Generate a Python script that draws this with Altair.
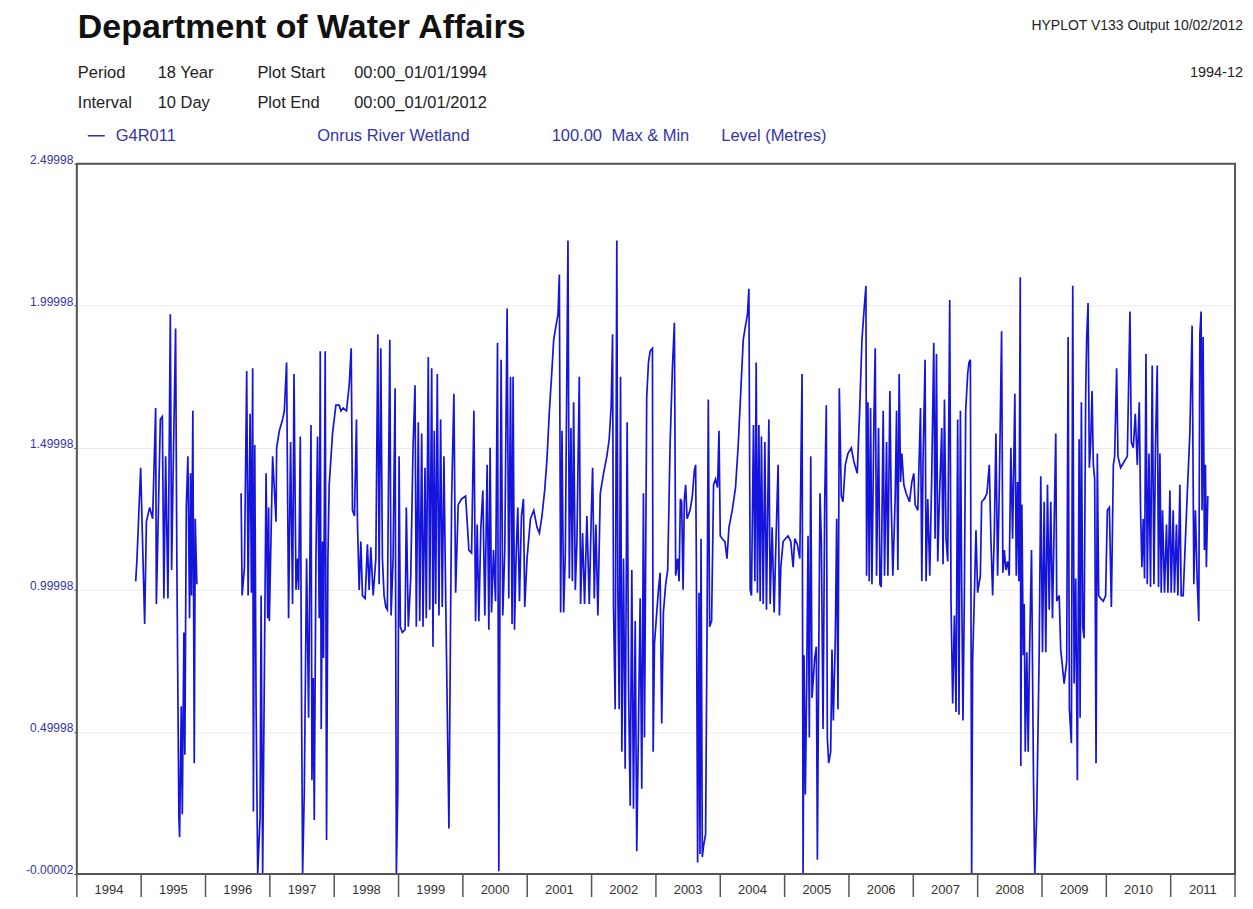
import altair as alt
import pandas as pd

# ---------------- data (decimal year, level in metres) ----------------
seg_1995 = [(1994.915, 1.03), (1994.935, 1.11), (1994.992, 1.43), (1995.054, 0.88), (1995.081, 1.24),
            (1995.132, 1.29), (1995.178, 1.25), (1995.225, 1.64), (1995.236, 0.95), (1995.298, 1.60),
            (1995.329, 1.61), (1995.353, 0.97), (1995.380, 1.47), (1995.416, 0.97), (1995.453, 1.97),
            (1995.473, 1.07), (1995.493, 1.36), (1995.535, 1.92), (1995.555, 1.08), (1995.586, 0.20),
            (1995.597, 0.13), (1995.623, 0.59), (1995.639, 0.21), (1995.664, 0.85), (1995.679, 0.42),
            (1995.701, 1.29), (1995.726, 1.47), (1995.752, 0.90), (1995.767, 1.41), (1995.783, 0.98),
            (1995.803, 1.63), (1995.825, 0.39), (1995.840, 1.25), (1995.865, 1.02)]

level_1996 = [(1996.553, 1.34), (1996.569, 0.98), (1996.605, 1.08), (1996.640, 1.77), (1996.662, 0.98),
              (1996.693, 1.62), (1996.713, 0.99), (1996.733, 1.78), (1996.744, 0.22), (1996.765, 1.51),
              (1996.786, 0.59), (1996.811, 0.0), (1996.848, 0.20), (1996.864, 0.98), (1996.888, 0.0),
              (1996.915, 0.72), (1996.941, 1.41), (1996.966, 0.90), (1996.981, 1.29), (1996.992, 0.89)]
level_1997 = [(1997.043, 1.47), (1997.096, 1.24), (1997.105, 1.50), (1997.147, 1.56), (1997.198, 1.60),
              (1997.225, 1.63), (1997.260, 1.80), (1997.291, 0.90), (1997.322, 1.52), (1997.353, 0.95),
              (1997.375, 1.76), (1997.406, 1.00), (1997.431, 1.11), (1997.447, 1.00), (1997.473, 1.54),
              (1997.493, 0.59), (1997.509, 0.0), (1997.535, 0.29), (1997.571, 1.11), (1997.602, 0.55),
              (1997.639, 1.58), (1997.654, 0.33), (1997.674, 0.69), (1997.690, 0.19), (1997.716, 1.11),
              (1997.741, 1.54), (1997.767, 0.90), (1997.783, 1.84), (1997.798, 0.51), (1997.819, 1.17),
              (1997.834, 0.76), (1997.860, 1.84), (1997.881, 0.12), (1997.902, 1.11), (1997.922, 1.37),
              (1997.974, 1.55)]
level_1998 = [(1998.026, 1.65), (1998.078, 1.65), (1998.104, 1.63), (1998.140, 1.64), (1998.191, 1.63),
              (1998.233, 1.72), (1998.264, 1.85), (1998.284, 1.28), (1998.315, 1.26), (1998.346, 1.60),
              (1998.361, 1.24), (1998.388, 1.00), (1998.414, 1.17), (1998.439, 0.98), (1998.481, 0.97),
              (1998.516, 1.16), (1998.543, 1.00), (1998.569, 1.15), (1998.605, 0.98), (1998.647, 1.11),
              (1998.678, 1.90), (1998.698, 1.02), (1998.724, 1.85), (1998.749, 1.11), (1998.775, 0.98),
              (1998.802, 0.94), (1998.826, 0.93), (1998.864, 1.88), (1998.884, 0.91), (1998.915, 1.11),
              (1998.946, 1.71), (1998.966, 0.0), (1998.988, 0.29)]
level_1999 = [(1999.008, 1.47), (1999.028, 0.87), (1999.059, 0.85), (1999.101, 0.86), (1999.121, 1.29),
              (1999.152, 0.87), (1999.189, 1.04), (1999.225, 1.50), (1999.256, 1.72), (1999.276, 0.87),
              (1999.307, 1.59), (1999.329, 0.89), (1999.360, 1.55), (1999.380, 0.87), (1999.411, 1.43),
              (1999.431, 0.90), (1999.462, 1.82), (1999.484, 0.93), (1999.515, 1.78), (1999.535, 0.80),
              (1999.555, 1.56), (1999.577, 0.95), (1999.602, 1.76), (1999.628, 0.91), (1999.654, 1.60),
              (1999.679, 0.94), (1999.705, 1.47), (1999.732, 0.98), (1999.783, 0.16), (1999.809, 0.91),
              (1999.825, 1.32), (1999.860, 1.69), (1999.887, 0.99), (1999.927, 1.30), (1999.980, 1.32)]
level_2000 = [(2000.042, 1.33), (2000.093, 1.14), (2000.135, 1.13), (2000.171, 1.63), (2000.197, 0.89),
              (2000.222, 1.23), (2000.248, 0.89), (2000.279, 1.22), (2000.310, 1.35), (2000.341, 0.91),
              (2000.377, 1.44), (2000.403, 0.86), (2000.423, 1.50), (2000.445, 0.92), (2000.476, 1.14),
              (2000.507, 0.96), (2000.538, 1.87), (2000.558, 0.01), (2000.574, 0.88), (2000.594, 1.81),
              (2000.620, 0.91), (2000.651, 1.14), (2000.687, 1.99), (2000.713, 0.97), (2000.740, 1.75),
              (2000.764, 0.88), (2000.780, 1.75), (2000.802, 0.86), (2000.826, 1.11), (2000.853, 1.29),
              (2000.879, 0.96), (2000.910, 1.26), (2000.941, 1.32), (2000.961, 0.94), (2000.997, 1.11)]
level_2001 = [(2001.050, 1.25), (2001.101, 1.28), (2001.152, 1.22), (2001.189, 1.20), (2001.229, 1.26),
              (2001.271, 1.35), (2001.307, 1.46), (2001.344, 1.63), (2001.375, 1.74), (2001.411, 1.88),
              (2001.447, 1.93), (2001.478, 1.97), (2001.499, 2.11), (2001.519, 0.92), (2001.540, 1.56),
              (2001.566, 0.92), (2001.592, 1.13), (2001.633, 2.23), (2001.654, 1.04), (2001.679, 1.57),
              (2001.701, 1.03), (2001.721, 1.66), (2001.747, 1.00), (2001.772, 1.17), (2001.809, 1.75),
              (2001.829, 0.95), (2001.860, 1.20), (2001.891, 0.95), (2001.927, 1.26), (2001.964, 0.95),
              (2001.995, 1.26)]
level_2002 = [(2002.016, 1.43), (2002.042, 0.97), (2002.067, 1.23), (2002.098, 0.91), (2002.135, 1.34),
              (2002.186, 1.41), (2002.237, 1.47), (2002.274, 1.53), (2002.305, 1.65), (2002.326, 1.90),
              (2002.341, 0.94), (2002.367, 0.58), (2002.392, 2.23), (2002.408, 1.00), (2002.429, 0.58),
              (2002.450, 1.75), (2002.470, 0.43), (2002.496, 1.11), (2002.522, 0.37), (2002.553, 1.59),
              (2002.574, 0.67), (2002.600, 0.24), (2002.625, 1.07), (2002.651, 0.23), (2002.678, 0.89),
              (2002.702, 0.08), (2002.729, 0.52), (2002.755, 0.97), (2002.780, 0.30), (2002.806, 1.34),
              (2002.822, 0.48), (2002.857, 1.68), (2002.884, 1.80), (2002.910, 1.84), (2002.946, 1.85),
              (2002.957, 0.43), (2002.977, 0.81)]
level_2003 = [(2003.039, 1.00), (2003.065, 1.06), (2003.090, 0.53), (2003.116, 0.92), (2003.152, 1.02),
              (2003.183, 1.07), (2003.220, 1.51), (2003.256, 1.78), (2003.287, 1.94), (2003.307, 1.05),
              (2003.338, 1.11), (2003.360, 1.03), (2003.380, 1.32), (2003.400, 1.31), (2003.422, 1.00),
              (2003.442, 1.32), (2003.462, 1.37), (2003.484, 1.25), (2003.530, 1.28), (2003.566, 1.33),
              (2003.597, 1.42), (2003.617, 1.44), (2003.628, 1.11), (2003.648, 0.04), (2003.670, 0.99),
              (2003.685, 0.07), (2003.701, 1.18), (2003.721, 0.06), (2003.741, 0.10), (2003.772, 0.14),
              (2003.794, 0.85), (2003.814, 1.67), (2003.834, 0.87), (2003.865, 0.89), (2003.896, 1.37),
              (2003.927, 1.39), (2003.958, 1.36), (2003.980, 1.56)]
level_2004 = [(2004.000, 1.19), (2004.031, 1.18), (2004.073, 1.17), (2004.104, 1.11), (2004.135, 1.22),
              (2004.186, 1.28), (2004.237, 1.36), (2004.279, 1.51), (2004.321, 1.71), (2004.357, 1.88),
              (2004.392, 1.93), (2004.423, 1.97), (2004.445, 2.06), (2004.465, 1.00), (2004.485, 0.98),
              (2004.516, 1.58), (2004.538, 1.03), (2004.558, 1.80), (2004.578, 0.99), (2004.600, 1.58),
              (2004.620, 0.96), (2004.640, 1.54), (2004.667, 0.95), (2004.693, 1.52), (2004.718, 0.93),
              (2004.755, 1.60), (2004.775, 0.95), (2004.806, 1.22), (2004.837, 0.92), (2004.868, 1.19),
              (2004.899, 1.44), (2004.919, 0.91), (2004.941, 1.08), (2004.977, 1.17)]
level_2005 = [(2005.012, 1.18), (2005.054, 1.19), (2005.096, 1.17), (2005.132, 1.08), (2005.158, 1.18),
              (2005.198, 1.16), (2005.236, 1.11), (2005.271, 1.76), (2005.287, 0.0), (2005.302, 0.77),
              (2005.322, 0.28), (2005.344, 0.69), (2005.364, 1.19), (2005.384, 0.48), (2005.406, 1.47),
              (2005.426, 0.62), (2005.468, 0.76), (2005.493, 0.80), (2005.509, 0.05), (2005.530, 0.76),
              (2005.550, 1.34), (2005.571, 1.17), (2005.597, 0.51), (2005.623, 1.31), (2005.648, 1.65),
              (2005.664, 0.48), (2005.685, 0.39), (2005.716, 0.43), (2005.736, 0.79), (2005.757, 0.54),
              (2005.788, 0.83), (2005.809, 1.25), (2005.829, 0.58), (2005.850, 1.71), (2005.881, 1.33),
              (2005.907, 1.31), (2005.943, 1.44), (2005.984, 1.48)]
level_2006 = [(2006.036, 1.50), (2006.078, 1.45), (2006.129, 1.41), (2006.166, 1.63), (2006.202, 1.88),
              (2006.233, 1.98), (2006.264, 2.07), (2006.274, 1.05), (2006.295, 1.66), (2006.315, 1.03),
              (2006.336, 1.64), (2006.357, 1.02), (2006.388, 1.60), (2006.408, 1.85), (2006.429, 1.05),
              (2006.460, 1.57), (2006.481, 1.02), (2006.501, 1.01), (2006.532, 1.63), (2006.553, 1.05),
              (2006.584, 1.52), (2006.605, 1.05), (2006.636, 1.70), (2006.656, 1.32), (2006.682, 1.05),
              (2006.718, 1.32), (2006.740, 1.63), (2006.760, 1.07), (2006.780, 1.76), (2006.802, 1.38),
              (2006.822, 1.48), (2006.853, 1.37), (2006.888, 1.34), (2006.941, 1.31), (2006.977, 1.38)]
level_2007 = [(2007.008, 1.41), (2007.028, 1.30), (2007.070, 1.28), (2007.112, 1.64), (2007.132, 1.03),
              (2007.152, 1.46), (2007.183, 1.81), (2007.198, 1.03), (2007.225, 1.32), (2007.256, 1.05),
              (2007.287, 1.41), (2007.318, 1.87), (2007.338, 1.18), (2007.360, 1.83), (2007.380, 1.10),
              (2007.406, 1.32), (2007.442, 1.57), (2007.462, 1.09), (2007.484, 1.67), (2007.509, 1.18),
              (2007.535, 1.10), (2007.566, 2.02), (2007.586, 0.96), (2007.612, 0.60), (2007.639, 0.91),
              (2007.664, 0.57), (2007.690, 1.60), (2007.710, 0.56), (2007.732, 1.63), (2007.752, 1.02),
              (2007.772, 0.54), (2007.794, 0.99), (2007.814, 1.63), (2007.845, 1.76), (2007.865, 1.80),
              (2007.887, 1.81), (2007.907, 0.0), (2007.922, 0.75), (2007.949, 0.98), (2007.974, 1.21)]
level_2008 = [(2008.000, 0.99), (2008.042, 1.05), (2008.062, 1.31), (2008.104, 1.32), (2008.144, 1.34),
              (2008.181, 1.44), (2008.206, 1.18), (2008.233, 0.98), (2008.259, 1.20), (2008.284, 1.55),
              (2008.310, 1.05), (2008.336, 1.35), (2008.372, 1.91), (2008.392, 1.06), (2008.414, 1.14),
              (2008.439, 1.07), (2008.465, 1.10), (2008.491, 1.05), (2008.516, 1.50), (2008.543, 1.18),
              (2008.578, 1.69), (2008.600, 1.05), (2008.620, 1.38), (2008.640, 1.03), (2008.662, 2.10),
              (2008.671, 0.38), (2008.687, 1.30), (2008.709, 0.77), (2008.724, 0.95), (2008.740, 0.43),
              (2008.764, 0.78), (2008.786, 0.43), (2008.806, 0.77), (2008.837, 1.14), (2008.868, 0.33),
              (2008.888, 0.0), (2008.919, 0.22), (2008.957, 0.79), (2008.981, 1.40)]
level_2009 = [(2009.008, 0.78), (2009.034, 1.31), (2009.059, 0.78), (2009.085, 1.37), (2009.112, 0.93),
              (2009.136, 1.31), (2009.163, 0.90), (2009.189, 1.23), (2009.214, 1.55), (2009.229, 0.96),
              (2009.267, 0.98), (2009.291, 0.79), (2009.344, 0.67), (2009.384, 0.75), (2009.406, 1.89),
              (2009.426, 0.58), (2009.457, 0.46), (2009.478, 2.07), (2009.499, 0.67), (2009.524, 1.04),
              (2009.550, 0.33), (2009.577, 1.53), (2009.592, 0.55), (2009.612, 1.66), (2009.633, 0.87),
              (2009.654, 0.83), (2009.679, 1.69), (2009.695, 1.89), (2009.716, 2.01), (2009.736, 1.43),
              (2009.757, 1.52), (2009.778, 1.70), (2009.798, 1.44), (2009.819, 1.39), (2009.840, 0.39),
              (2009.860, 1.48), (2009.881, 0.98), (2009.912, 0.97), (2009.953, 0.96), (2009.989, 0.98)]
level_2010 = [(2010.016, 1.28), (2010.047, 1.29), (2010.078, 0.94), (2010.109, 1.44), (2010.129, 1.47),
              (2010.160, 1.78), (2010.181, 1.47), (2010.222, 1.43), (2010.274, 1.45), (2010.326, 1.47),
              (2010.367, 1.98), (2010.388, 1.52), (2010.419, 1.50), (2010.450, 1.62), (2010.481, 1.44),
              (2010.512, 1.66), (2010.532, 1.28), (2010.553, 1.08), (2010.574, 1.25), (2010.594, 1.04),
              (2010.616, 1.83), (2010.636, 1.02), (2010.662, 1.48), (2010.687, 1.01), (2010.713, 1.79),
              (2010.740, 1.02), (2010.764, 1.51), (2010.791, 1.79), (2010.811, 1.01), (2010.833, 1.48),
              (2010.853, 0.99), (2010.873, 1.28), (2010.904, 0.99), (2010.935, 1.23), (2010.957, 0.99),
              (2010.988, 1.35)]
level_2011 = [(2011.008, 0.99), (2011.039, 1.28), (2011.059, 0.99), (2011.090, 1.23), (2011.112, 0.98),
              (2011.143, 1.37), (2011.163, 0.98), (2011.194, 0.98), (2011.256, 1.33), (2011.298, 1.55),
              (2011.333, 1.93), (2011.360, 1.02), (2011.384, 1.28), (2011.411, 1.04), (2011.437, 0.89),
              (2011.453, 1.90), (2011.473, 1.98), (2011.488, 1.28), (2011.504, 1.89), (2011.524, 1.14),
              (2011.540, 1.44), (2011.555, 1.08), (2011.577, 1.33)]

year_labels = [str(y) for y in range(1994, 2012)]
year_edges = list(range(1994, 2013))
y_ticks = [-0.00002, 0.49998, 0.99998, 1.49998, 1.99998, 2.49998]

# ---------------- build tables ----------------
rows = [{"t": t, "v": v, "seg": "1995"} for t, v in seg_1995]
for block in [level_1996, level_1997, level_1998, level_1999, level_2000, level_2001,
              level_2002, level_2003, level_2004, level_2005, level_2006, level_2007,
              level_2008, level_2009, level_2010, level_2011]:
    rows += [{"t": t, "v": v, "seg": "main"} for t, v in block]
df = pd.DataFrame(rows)
labels_df = pd.DataFrame({"label": year_labels, "mid": [int(s) + 0.5 for s in year_labels]})
edges_df = pd.DataFrame({"yr": year_edges})

W, H = 1161, 712
BLUE_TXT = "#3434a8"
FONT = "Liberation Sans"

xscale = alt.Scale(domain=[1994, 2012], nice=False, zero=False)
yscale = alt.Scale(domain=[-0.00002, 2.49998], nice=False, zero=False)

line = alt.Chart(df).mark_line(color="#1414dc", strokeWidth=1.7).encode(
    x=alt.X("t:Q", scale=xscale,
            axis=alt.Axis(values=list(range(1995, 2012)), grid=True, gridColor="#ececec",
                          labels=False, ticks=False, domain=False, title=None)),
    y=alt.Y("v:Q", scale=yscale,
            axis=alt.Axis(values=y_ticks, grid=True, gridColor="#ececec", domain=False,
                          title=None, tickSize=3, tickColor="#555555", labelPadding=1,
                          labelColor=BLUE_TXT, labelFontSize=12, labelFont=FONT,
                          labelBaseline="alphabetic",
                          labelExpr="datum.value < 0 ? '-0.00002' : format(datum.value, '.5f')")),
    detail="seg:N",
)

one = alt.Data(values=[{"k": 0}])

frame = alt.Chart(one).mark_rect(fill=None, fillOpacity=0, stroke="#555555", strokeWidth=2).encode(
    x=alt.value(0), x2=alt.value(W), y=alt.value(0), y2=alt.value(H))

seps = alt.Chart(edges_df).mark_rule(color="#555555", strokeWidth=1.5).encode(
    x=alt.X("yr:Q", scale=xscale, axis=None),
    y=alt.value(H), y2=alt.value(H + 24),
)

year_text = alt.Chart(labels_df).mark_text(fontSize=13, font=FONT, color="#333333",
                                           baseline="middle", align="center").encode(
    x=alt.X("mid:Q", scale=xscale, axis=None),
    y=alt.value(H + 16),
    text="label:N",
)


def txt(s, x, y, size=16.5, color="#222222", weight="normal", align="left"):
    return alt.Chart(one).mark_text(fontSize=size, font=FONT, color=color, fontWeight=weight,
                                    align=align, baseline="middle").encode(
        x=alt.value(x), y=alt.value(y), text=alt.value(s))


header = [
    txt("Department of Water Affairs", 1, -136, size=34, color="#111111", weight="bold"),
    txt("HYPLOT V133  Output 10/02/2012", 1169, -138, size=14, align="right"),
    txt("1994-12", 1169, -91, size=14.5, align="right"),
    txt("Period", 1, -91), txt("18 Year", 81, -91), txt("Plot Start", 181, -91),
    txt("00:00_01/01/1994", 278, -91),
    txt("Interval", 1, -61), txt("10 Day", 81, -61), txt("Plot End", 181, -61),
    txt("00:00_01/01/2012", 278, -61),
    txt("G4R011", 39, -28, color=BLUE_TXT),
    txt("Onrus River Wetland", 241, -28, color=BLUE_TXT),
    txt("100.00", 476, -28, color=BLUE_TXT),
    txt("Max & Min", 536, -28, color=BLUE_TXT),
    txt("Level (Metres)", 646, -28, color=BLUE_TXT),
]
dash = alt.Chart(one).mark_rule(color=BLUE_TXT, strokeWidth=1.5).encode(
    x=alt.value(11), x2=alt.value(28), y=alt.value(-28))

chart = alt.layer(line, frame, seps, year_text, dash, *header).properties(
    width=W, height=H,
    padding={"left": 69, "top": 155, "right": 10, "bottom": 22},
    autosize=alt.AutoSizeParams(type="none"),
).configure_view(stroke=None).configure(font=FONT)

chart.save("out.html", embed_options={"renderer": "svg", "actions": False})
